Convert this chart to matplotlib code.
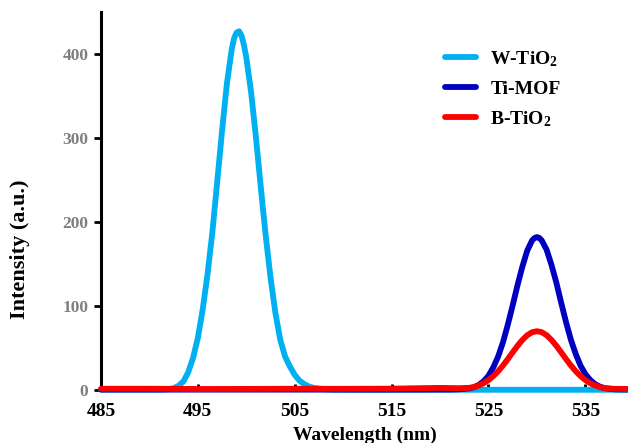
import matplotlib.pyplot as plt

plt.rcParams["font.family"] = ["Liberation Serif", "DejaVu Serif"]
plt.rcParams["font.weight"] = "bold"
plt.rcParams["mathtext.fontset"] = "custom"
plt.rcParams["mathtext.rm"] = "Liberation Serif:bold"
plt.rcParams["mathtext.bf"] = "Liberation Serif:bold"
plt.rcParams["mathtext.default"] = "rm"

# values
w_tio2_x = [485, 488, 491, 492, 492.5, 493, 493.5, 494, 494.5, 495, 495.5, 496,
            496.5, 497, 497.5, 498, 498.5, 498.75, 499, 499.25, 499.5, 499.75,
            500, 500.5, 501, 501.5, 502, 502.5, 503, 503.5, 504, 504.5, 505,
            505.5, 506, 506.5, 507, 508, 509, 512, 520, 530, 540]
w_tio2_y = [0.5, 0.5, 0.5, 1.0, 2.2, 5, 10, 21, 38, 62, 96, 138,
            188, 248, 309, 365, 406, 419, 425.5, 427, 422, 411,
            396, 354, 300, 241, 184, 134, 92, 60, 40, 28, 18,
            11, 7, 4, 2.5, 1, 0.5, 0.3, 0.3, 0.3, 0.3]

ti_mof_x = [485, 500, 515, 521, 522, 523, 523.5, 524, 524.5, 525, 525.5, 526,
            526.5, 527, 527.5, 528, 528.5, 529, 529.5, 529.75, 530, 530.25,
            530.5, 531, 531.5, 532, 532.5, 533, 533.5, 534, 534.5, 535, 535.5,
            536, 536.5, 537, 538, 540]
ti_mof_y = [0.5, 0.5, 0.5, 0.6, 0.9, 1.9, 3.4, 6.1, 10.4, 17, 27, 40,
            57, 78, 101, 125, 147, 166, 178, 181, 182, 181,
            178, 167, 149, 128, 104, 81, 60, 43, 29, 19, 12,
            7, 4, 2.2, 0.8, 0.5]

b_tio2_x = [485, 490, 495, 500, 505, 510, 515, 518, 520, 522, 523, 523.5, 524,
            524.5, 525, 525.5, 526, 526.5, 527, 527.5, 528, 528.5, 529, 529.5,
            530, 530.5, 531, 531.5, 532, 532.5, 533, 533.5, 534, 534.5, 535,
            535.5, 536, 536.5, 537, 538, 540]
b_tio2_y = [1.5, 1.5, 1.2, 1.3, 1.5, 1.4, 1.6, 2.2, 2.5, 2.2, 2.6, 3.5, 5.4,
            8.1, 11.8, 16.6, 22.4, 29.3, 36.9, 44.9, 52.7, 59.6, 65.2, 68.8,
            70, 68.8, 65.2, 59.6, 52.7, 44.9, 36.9, 29.3, 22.4, 16.6, 11.8,
            8.1, 5.4, 3.5, 2.2, 1.4, 1.2]

series = [
    ("W-TiO$_2$", w_tio2_x, w_tio2_y, "#00B0F0"),
    ("Ti-MOF", ti_mof_x, ti_mof_y, "#0000C0"),
    ("B-TiO$_2$", b_tio2_x, b_tio2_y, "#FF0000"),
]

x_ticks = [485, 495, 505, 515, 525, 535]
y_ticks = [0, 100, 200, 300, 400]

fig = plt.figure(figsize=(6.28, 4.43), dpi=100)
ax = fig.add_axes([0.1608, 0.1196, 0.8392, 0.8534])

for name, xs, ys, color in series:
    ax.plot(xs, ys, color=color, lw=4.2, label=name, solid_capstyle="round",
            solid_joinstyle="round", clip_on=False, zorder=3)

ax.set_xlim(485, 539.4)
ax.set_ylim(0, 450)
ax.set_xticks(x_ticks)
ax.set_yticks(y_ticks)

for side in ["top", "right"]:
    ax.spines[side].set_visible(False)
for side in ["left", "bottom"]:
    ax.spines[side].set_linewidth(2.2)
    ax.spines[side].set_color("black")

ax.tick_params(axis="x", direction="in", length=4, width=2, labelsize=14,
               pad=9, labelcolor="black")
ax.tick_params(axis="y", direction="out", length=5, width=2, labelsize=12.5,
               pad=4, labelcolor="#7f7f7f")
for lab in ax.get_xticklabels() + ax.get_yticklabels():
    lab.set_fontweight("bold")

ax.set_xlabel("Wavelength (nm)", fontsize=14, fontweight="bold", labelpad=5.5)
ax.set_ylabel("Intensity (a.u.)", fontsize=16, fontweight="bold")
# the axis title sits low on the reference, not centred on the axis
ax.yaxis.set_label_coords(-0.135, 0.373)

leg = ax.legend(loc="upper left", bbox_to_anchor=(0.708, 0.889),
                bbox_transform=fig.transFigure, frameon=False, fontsize=14,
                handlelength=1.6, handletextpad=0.75, labelspacing=0.58,
                borderpad=0, borderaxespad=0)
for line in leg.get_lines():
    line.set_linewidth(4.2)
    line.set_solid_capstyle("round")

plt.savefig("out.png", dpi=100)
plt.close(fig)
